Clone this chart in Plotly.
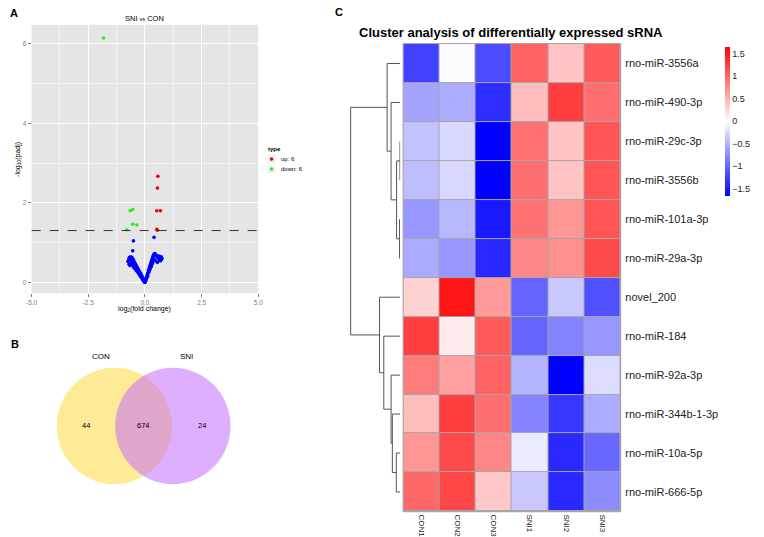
import plotly.graph_objects as go

W, H = 764, 537
def px(x): return x / W
def py(y): return 1 - y / H

FONT = "Liberation Sans, Arial, sans-serif"

# ---------------- Panel A: volcano data ----------------
up_x = [0.57, 0.55, 0.52, 0.68, 0.52, 0.55]
up_y = [2.67, 2.37, 1.80, 1.80, 1.33, 1.31]
down_x = [-1.83, -0.65, -0.54, -0.54, -0.36, -0.80]
down_y = [6.15, 1.80, 1.83, 1.46, 1.44, 1.32]
ns_x = [-0.02, -0.04, -0.06, -0.08, -0.10, -0.12, -0.14, -0.16, -0.18, -0.20, -0.22, -0.24, -0.26, -0.28,
        -0.30, -0.32, -0.34, -0.36, -0.38, -0.40, -0.42, -0.44, -0.46, -0.48, -0.50, -0.52, -0.54, -0.56,
        -0.58, -0.60, -0.62, -0.64, -0.66, -0.68, -0.70, -0.72, -0.75, -0.62, -0.58, -0.55, -0.50, -0.46,
        -0.42, -0.38, -0.34, -0.30, -0.26, -0.22, -0.18, -0.14, -0.10, -0.44, -0.40, -0.36, -0.32, -0.28,
        -0.24, -0.20, -0.16, -0.12, -0.08, -0.05, -0.51, -0.54, -0.01, 0.00, 0.01,
        0.02, 0.03, 0.05, 0.06, 0.08, 0.09, 0.11, 0.12, 0.14, 0.15, 0.17, 0.18, 0.20, 0.21, 0.23, 0.24,
        0.26, 0.27, 0.29, 0.30, 0.32, 0.33, 0.35, 0.36, 0.38, 0.40, 0.42, 0.44, 0.47, 0.50, 0.53, 0.56,
        0.60, 0.63, 0.66, 0.69, 0.72, 0.75, 0.72, 0.68, 0.12, 0.18, 0.25, 0.30, 0.22, 0.28, 0.35, 0.38,
        0.33, 0.40, -0.70, -0.66, -0.60, -0.52, -0.48, 0.45, 0.55, 0.62]
ns_y = [0.01, 0.03, 0.05, 0.08, 0.09, 0.12, 0.13, 0.16, 0.17, 0.20, 0.21, 0.24, 0.24, 0.28,
        0.28, 0.32, 0.31, 0.36, 0.35, 0.40, 0.38, 0.44, 0.42, 0.47, 0.45, 0.50, 0.48, 0.53,
        0.51, 0.56, 0.54, 0.60, 0.57, 0.63, 0.60, 0.55, 0.52, 0.64, 0.62, 0.60, 0.56, 0.50,
        0.46, 0.42, 0.37, 0.33, 0.29, 0.25, 0.21, 0.16, 0.12, 0.35, 0.31, 0.28, 0.26, 0.22,
        0.19, 0.15, 0.12, 0.08, 0.05, 0.02, 1.04, 0.79, 0.00, 0.00, 0.01,
        0.02, 0.05, 0.07, 0.10, 0.12, 0.16, 0.18, 0.22, 0.24, 0.28, 0.30, 0.33, 0.35, 0.39, 0.41, 0.44,
        0.46, 0.50, 0.51, 0.55, 0.57, 0.61, 0.62, 0.66, 0.68, 0.71, 0.70, 0.72, 0.69, 0.67, 0.64, 0.62,
        0.60, 0.58, 0.56, 0.54, 0.57, 0.60, 0.64, 0.62, 0.15, 0.26, 0.38, 0.45, 0.32, 0.40, 0.52, 0.58,
        0.48, 1.13, 0.45, 0.42, 0.47, 0.40, 0.36, 0.55, 0.50, 0.66]
padj_cut = 1.301
x_ticks = [-5.0, -2.5, 0.0, 2.5, 5.0]
x_ticklabels = ["-5.0", "-2.5", "0.0", "2.5", "5.0"]
y_ticks = [0, 2, 4, 6]
legend_labels = ["up: 6", "down: 6"]

# ---------------- Panel B: Venn data ----------------
venn_sets = ["CON", "SNI"]
venn_counts = [44, 674, 24]  # CON only, both, SNI only

# ---------------- Panel C: heatmap data ----------------
samples = ["CON1", "CON2", "CON3", "SNI1", "SNI2", "SNI3"]
genes = ["rno-miR-3556a", "rno-miR-490-3p", "rno-miR-29c-3p", "rno-miR-3556b", "rno-miR-101a-3p",
         "rno-miR-29a-3p", "novel_200", "rno-miR-184", "rno-miR-92a-3p", "rno-miR-344b-1-3p",
         "rno-miR-10a-5p", "rno-miR-666-5p"]
zscores = [
    [-1.24, -0.02, -1.17, 1.01, 0.39, 1.07],
    [-0.59, -0.55, -1.37, 0.42, 1.24, 0.94],
    [-0.39, -0.26, -1.66, 0.91, 0.39, 1.10],
    [-0.42, -0.26, -1.66, 0.94, 0.39, 1.10],
    [-0.68, -0.46, -1.50, 0.91, 0.68, 1.10],
    [-0.55, -0.68, -1.40, 0.78, 0.72, 1.17],
    [0.29, 1.50, 0.65, -1.01, -0.36, -1.14],
    [1.24, 0.13, 1.07, -1.01, -0.81, -0.68],
    [0.85, 0.62, 1.01, -0.49, -1.66, -0.23],
    [0.42, 1.24, 0.94, -0.81, -1.30, -0.55],
    [0.68, 1.17, 0.78, -0.13, -1.40, -0.98],
    [0.98, 1.20, 0.36, -0.36, -1.40, -0.75],
]
cbar_ticks = [1.5, 1, 0.5, 0, -0.5, -1, -1.5]
cbar_labels = ["1.5", "1", "0.5", "0", "\u22120.5", "\u22121", "\u22121.5"]
# row dendrogram merges: (child a, child b, height); leaves 0..11 in display order
merges = [(2, 3, 0.05), (4, 5, 0.14), (12, 13, 0.74), (1, 14, 1.86), (0, 15, 2.66),
          (10, 11, 0.80), (9, 17, 1.60), (8, 18, 1.86), (7, 19, 3.34), (6, 20, 4.20),
          (16, 21, 10.06)]

fig = go.Figure()

# ----- volcano -----
fig.add_trace(go.Scatter(x=ns_x, y=ns_y, mode="markers", marker=dict(color="#0000FF", size=3.6),
                         showlegend=False, xaxis="x", yaxis="y", hoverinfo="skip"))
fig.add_trace(go.Scatter(x=down_x, y=down_y, mode="markers", marker=dict(color="#22EE22", size=3.6),
                         showlegend=False, xaxis="x", yaxis="y"))
fig.add_trace(go.Scatter(x=up_x, y=up_y, mode="markers", marker=dict(color="#EE0000", size=3.6),
                         showlegend=False, xaxis="x", yaxis="y"))

# ----- heatmap -----
zmin, zmax = -1.66, 1.65
mid = (0 - zmin) / (zmax - zmin)
fig.add_trace(go.Heatmap(
    z=zscores, x=list(range(len(samples))), y=list(range(len(genes))),
    xaxis="x2", yaxis="y2", zmin=zmin, zmax=zmax, xgap=1, ygap=1,
    colorscale=[[0, "#0000FF"], [mid, "#FFFFFF"], [1, "#FF0000"]],
    colorbar=dict(x=px(730), xanchor="left", y=py(122.2), yanchor="middle",
                  lenmode="pixels", len=149, thickness=5, thicknessmode="pixels",
                  xpad=0, ypad=0, outlinewidth=0, ticks="",
                  tickvals=cbar_ticks, ticktext=cbar_labels,
                  tickfont=dict(size=9, color="#222", family=FONT)),
))

# ----- dendrogram -----
pos = {i: (0.0, float(i)) for i in range(len(genes))}
dx, dy = [], []
nid = len(genes)
for a, b, h in merges:
    ha, ya = pos[a]
    hb, yb = pos[b]
    dx += [ha, h, h, hb, None]
    dy += [ya, ya, yb, yb, None]
    pos[nid] = (h, (ya + yb) / 2)
    nid += 1
fig.add_trace(go.Scatter(x=dx, y=dy, mode="lines", line=dict(color="#555555", width=1),
                         xaxis="x3", yaxis="y2", showlegend=False, hoverinfo="skip"))

# legend keys (drawn through a hidden axis in pixel units)
fig.add_trace(go.Scatter(x=[269.5, 269.5], y=[160, 170], mode="markers",
                         marker=dict(color=["#EE0000", "#22EE22"], size=3.6),
                         xaxis="x5", yaxis="y5", showlegend=False, hoverinfo="skip"))

shapes = []
# volcano background
shapes.append(dict(type="rect", xref="x domain", yref="y domain", x0=0, x1=1, y0=0, y1=1,
                   fillcolor="#E5E5E5", line=dict(width=0), layer="below"))
shapes.append(dict(type="line", xref="x domain", yref="y", x0=0, x1=1, y0=padj_cut, y1=padj_cut,
                   line=dict(color="#333333", width=1, dash="dash")))
# heatmap cell borders
shapes.append(dict(type="rect", xref="x2 domain", yref="y2 domain", x0=-0.004, x1=1.004, y0=-0.002, y1=1.002,
                   fillcolor="#A6A6A6", line=dict(width=0), layer="below"))
# venn circles
r = 58.5
cy = 428.3
shapes.append(dict(type="circle", xref="x4", yref="y4", x0=110 - r, x1=110 + r, y0=cy - r, y1=cy + r,
                   fillcolor="rgba(255,215,45,0.5)", line=dict(width=0)))
shapes.append(dict(type="circle", xref="x4", yref="y4", x0=169.3 - r, x1=169.3 + r, y0=cy - r, y1=cy + r,
                   fillcolor="rgba(192,96,255,0.5)", line=dict(width=0)))
# legend key boxes
for i in range(2):
    yk = 160 + 10 * i
    shapes.append(dict(type="rect", xref="paper", yref="paper", x0=px(265.5), x1=px(273.5),
                       y0=py(yk + 4.5), y1=py(yk - 4.5), fillcolor="#F2F2F2", line=dict(width=0),
                       layer="below"))

ann = []
def A(text, x, y, size, color="#000", bold=False, xanchor="center", textangle=0):
    t = f"<b>{text}</b>" if bold else text
    ann.append(dict(text=t, x=px(x), y=py(y), xref="paper", yref="paper", showarrow=False,
                    xanchor=xanchor, yanchor="middle", textangle=textangle,
                    font=dict(size=size, color=color, family=FONT)))

A("A", 8, 13, 11, bold=True)
A("B", 9, 346, 11, bold=True)
A("C", 338, 12, 11, bold=True)
A("SNI <span style='font-size:5.5px'>vs</span> CON", 141, 19, 7.5)
A("log<sub>2</sub>(fold change)", 141, 311, 7)
A("-log<sub>10</sub>(padj)", 12, 160, 7, textangle=-90)
A("<b>type</b>", 264, 150, 6, xanchor="left")
A(legend_labels[0], 276.5, 160, 6, xanchor="left")
A(legend_labels[1], 276.5, 170, 6, xanchor="left")
A("Cluster analysis of differentially expressed sRNA", 512, 33, 13, bold=True)
# venn labels
A(venn_sets[0], 96, 358.7, 8)
A(venn_sets[1], 183, 358.7, 8)
A(str(venn_counts[0]), 80.7, 428.3, 7.5)
A(str(venn_counts[1]), 139.7, 428.3, 7.5)
A(str(venn_counts[2]), 198.7, 428.3, 7.5)

axis_common = dict(showline=False, zeroline=False)
fig.update_layout(
    width=W, height=H, margin=dict(l=0, r=0, t=0, b=0),
    paper_bgcolor="white", plot_bgcolor="rgba(0,0,0,0)",
    font=dict(family=FONT),
    shapes=shapes, annotations=ann, showlegend=False,
    xaxis=dict(domain=[px(26), px(256)], range=[-5, 5], anchor="y",
               tickvals=x_ticks, ticktext=x_ticklabels, ticks="outside", ticklen=3,
               tickcolor="#7F7F7F", tickfont=dict(size=6.5, color="#7F7F7F"),
               showgrid=True, gridcolor="white", gridwidth=1,
               minor=dict(tickvals=[-3.75, -1.25, 1.25, 3.75], showgrid=True, gridcolor="#F2F2F2",
                          gridwidth=0.5, ticks=""), **axis_common),
    yaxis=dict(domain=[py(295), py(25)], range=[-0.28, 6.48], anchor="x",
               tickvals=y_ticks, ticks="outside", ticklen=3,
               tickcolor="#7F7F7F", tickfont=dict(size=6.5, color="#7F7F7F"),
               showgrid=True, gridcolor="white", gridwidth=1,
               minor=dict(tickvals=[1, 3, 5], showgrid=True, gridcolor="#F2F2F2",
                          gridwidth=0.5, ticks=""), **axis_common),
    xaxis2=dict(domain=[px(403.3), px(623.3)], range=[-0.5, 5.5], anchor="y2",
                tickvals=list(range(len(samples))), ticktext=samples, tickangle=90,
                ticks="", showgrid=False, tickfont=dict(size=8, color="#222"),
                ticklabelstandoff=2, **axis_common),
    yaxis2=dict(domain=[py(514.3), py(44.3)], range=[11.5, -0.5], anchor="x2", side="right",
                tickvals=list(range(len(genes))), ticktext=genes,
                ticks="", showgrid=False, tickfont=dict(size=11, color="#222"),
                ticklabelstandoff=4, **axis_common),
    xaxis3=dict(domain=[px(345), px(400)], range=[11, 0], anchor="y2", visible=False),
    xaxis4=dict(domain=[0, px(300)], range=[0, 300], anchor="y4", visible=False),
    yaxis4=dict(domain=[py(537), py(300)], range=[537, 300], anchor="x4", visible=False),
    xaxis5=dict(domain=[0, px(300)], range=[0, 300], anchor="y5", visible=False),
    yaxis5=dict(domain=[py(300), 1], range=[300, 0], anchor="x5", visible=False),
)

fig.write_html("out.html", config={"displayModeBar": False},
               post_script="document.body.style.margin='0';document.body.style.overflow='hidden';")
